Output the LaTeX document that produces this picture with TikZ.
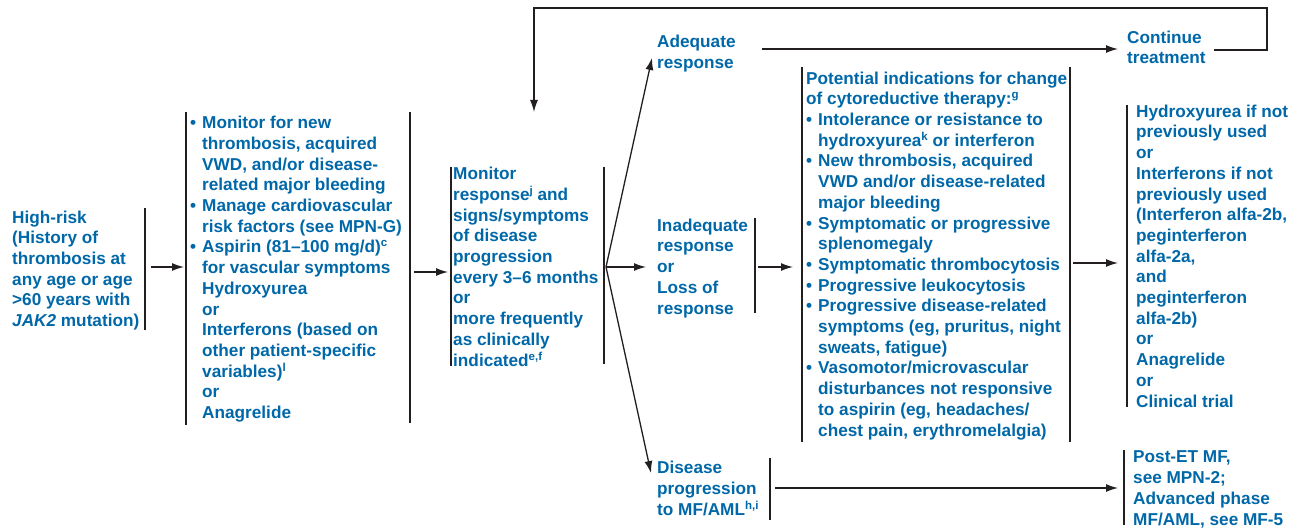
\documentclass[tikz,border=0pt]{standalone}
\usepackage{fontspec}
\setmainfont{Liberation Sans}
\usetikzlibrary{arrows.meta}
\definecolor{nccnblue}{RGB}{0,104,168}
\definecolor{linegray}{RGB}{35,31,32}
\newcommand\sups[1]{\raisebox{6pt}{\fontsize{11.5}{11.5}\selectfont #1}}
\newcommand\bul{\makebox[12pt][l]{\textbullet}}
\newcommand\ind{\hspace*{12pt}}
\begin{document}
\begin{tikzpicture}[x=1pt,y=-1pt,
 txt/.style={anchor=base west, inner sep=0pt, align=left, text=nccnblue, font=\fontsize{17.2}{20.7}\selectfont\bfseries},
 brk/.style={draw=linegray, line width=1.5pt},
 conn/.style={draw=linegray, line width=1.3pt, -{Latex[length=12pt,width=8pt]}},
 seg/.style={draw=linegray, line width=1.3pt}]
\useasboundingbox[fill=white] (0,0) rectangle (1300,529);

% nodes (anchored at the baseline of their last line)
\node[txt] (n1) at (12,326.5) {High-risk\\(History of\\thrombosis at\\any age or age\\>60 years with\\\textit{JAK2} mutation)};
\node[txt] (n2) at (190,418.5) {\bul Monitor for new\\
\ind thrombosis, acquired\\
\ind VWD, and/or disease-\\
\ind related major bleeding\\
\bul Manage cardiovascular\\
\ind risk factors (see MPN-G)\\
\bul Aspirin (81--100 mg/d)\sups{c}\\
\ind for vascular symptoms\\
\ind Hydroxyurea\\
\ind or\\
\ind Interferons (based on\\
\ind other patient-specific\\
\ind variables)\sups{l}\\
\ind or\\
\ind Anagrelide};
\node[txt] (n3) at (453,366) {Monitor\\response\sups{j} and\\signs/symptoms\\of disease\\progression\\every 3--6 months\\or\\more frequently\\as clinically\\indicated\sups{e,f}};
\node[txt] (n4) at (657,68.5) {Adequate\\response};
\node[txt] (n5) at (1127,64) {Continue\\treatment};
\node[txt] (n6) at (657,314) {Inadequate\\response\\or\\Loss of\\response};
\node[txt] (n7) at (806,436) {Potential indications for change\\of cytoreductive therapy:\sups{g}\\
\bul Intolerance or resistance to\\
\ind hydroxyurea\sups{k} or interferon\\
\bul New thrombosis, acquired\\
\ind VWD and/or disease-related\\
\ind major bleeding\\
\bul Symptomatic or progressive\\
\ind splenomegaly\\
\bul Symptomatic thrombocytosis\\
\bul Progressive leukocytosis\\
\bul Progressive disease-related\\
\ind symptoms (eg, pruritus, night\\
\ind sweats, fatigue)\\
\bul Vasomotor/microvascular\\
\ind disturbances not responsive\\
\ind to aspirin (eg, headaches/\\
\ind chest pain, erythromelalgia)};
\node[txt] (n8) at (1136,407) {Hydroxyurea if not\\previously used\\or\\Interferons if not\\previously used\\(Interferon alfa-2b,\\peginterferon\\alfa-2a,\\and\\peginterferon\\alfa-2b)\\or\\Anagrelide\\or\\Clinical trial};
\node[txt] (n9) at (657,515) {Disease\\progression\\to MF/AML\sups{h,i}};
\node[txt] (n10) at (1133,525) {Post-ET MF,\\see MPN-2;\\Advanced phase\\MF/AML, see MF-5};

% brackets
\draw[brk] (145,208) -- (145,330);
\draw[brk] (186,112) -- (186,425);
\draw[brk] (410,112) -- (410,423);
\draw[brk] (451,167) -- (451,366);
\draw[brk] (604,167) -- (604,364);
\draw[brk] (755,218) -- (755,313);
\draw[brk] (802,67) -- (802,442);
\draw[brk] (1070,67) -- (1070,442);
\draw[brk] (1127,105) -- (1127,407);
\draw[brk] (770,458) -- (770,520);
\draw[brk] (1124,450) -- (1124,525);

% connector coordinates
\coordinate (o1) at (151,267);  \coordinate (i2) at (184,267);
\coordinate (o2) at (414,272);  \coordinate (i3) at (448,272);
\coordinate (j3) at (606,267);
\coordinate (i4) at (652,58);   \coordinate (i6) at (646,267);  \coordinate (i9) at (651,473);
\coordinate (o4) at (762,49);   \coordinate (i5) at (1118,49);
\coordinate (o5) at (1214,50);  \coordinate (c1) at (1267,50);  \coordinate (c2) at (1267,8);
\coordinate (c3) at (534,8);    \coordinate (r3) at (534,112);
\coordinate (o6) at (758,267);  \coordinate (i7) at (793,267);
\coordinate (o7) at (1073,263); \coordinate (i8) at (1118,263);
\coordinate (o9) at (775,488);  \coordinate (i10) at (1118,488);

% connectors
\draw[conn] (o1) -- (i2);
\draw[conn] (o2) -- (i3);
\draw[conn] (j3) -- (i4);
\draw[conn] (j3) -- (i6);
\draw[conn] (j3) -- (i9);
\draw[conn] (o4) -- (i5);
\draw[conn] (o5) -- (c1) -- (c2) -- (c3) -- (r3);
\draw[conn] (o6) -- (i7);
\draw[conn] (o7) -- (i8);
\draw[conn] (o9) -- (i10);
\end{tikzpicture}
\end{document}
